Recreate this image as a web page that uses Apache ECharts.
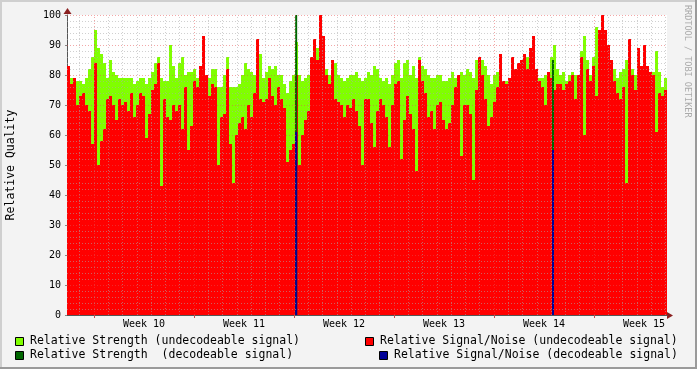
<!DOCTYPE html>
<html>
<head>
<meta charset="utf-8">
<script src="https://cdn.jsdelivr.net/npm/echarts@6/dist/echarts.min.js"></script>
<style>html,body{margin:0;padding:0;background:#f3f3f3;}#c{width:697px;height:369px;}</style>
</head>
<body>
<div id="c"></div>
<script>
// ---- data ----
const weekLabels = ['Week 10', 'Week 11', 'Week 12', 'Week 13', 'Week 14', 'Week 15'];
const spanHours = 1008;            // 6 weeks shown
const firstWeekStartHour = 45.4;   // hour (from left edge) where Week 10 begins
// Relative Strength (undecodeable signal), one value per 5.04 h
const strength = [
  80,79,78,78,78,77,79,82,86,95,89,87,84,79,85,81,80,79,79,79,79,79,77,78,79,79,77,79,81,84,86,79,78,
  78,90,83,79,84,86,80,81,81,82,79,78,78,80,79,82,82,76,76,80,86,76,76,76,77,80,84,82,81,80,84,87,79,
  81,83,82,83,80,80,77,74,78,80,91,80,78,79,80,86,89,89,88,83,82,80,78,84,80,79,78,79,80,80,81,79,78,79,
  81,80,83,82,79,78,79,77,80,84,85,79,84,85,80,83,79,86,83,82,80,79,79,80,80,78,78,79,81,79,78,81,80,
  82,81,79,85,86,85,83,80,77,80,81,80,78,78,79,80,80,80,79,86,86,80,80,80,79,79,80,80,86,90,82,80,81,
  78,80,81,80,80,88,93,85,80,86,96,93,90,90,88,85,82,79,81,82,85,86,82,80,81,80,81,80,81,81,88,81,76,79
];
// Relative Signal/Noise (undecodeable signal)
const signalNoise = [
  83,77,79,70,73,74,70,68,57,84,50,58,62,72,73,70,65,72,70,71,68,74,66,70,74,73,59,67,75,77,84,43,72,
  66,65,70,68,70,62,76,55,63,78,76,83,93,80,73,77,76,50,66,67,82,57,44,60,64,66,62,70,66,74,92,72,71,
  72,79,73,70,76,72,69,51,55,57,80,50,60,65,68,86,92,85,100,93,80,77,85,72,71,70,66,70,69,72,68,63,50,72,
  72,64,56,68,72,70,66,56,70,77,78,52,65,73,67,62,48,85,78,74,66,68,62,70,71,65,62,64,70,76,80,53,70,
  70,67,45,75,86,80,72,63,66,71,76,87,78,77,79,86,82,84,85,87,82,89,93,82,78,76,70,81,79,75,77,77,75,
  77,78,80,72,80,86,60,82,78,83,73,95,100,95,90,85,78,74,72,76,44,92,80,75,89,83,90,83,81,80,61,74,73,75
];
// decodeable signal samples (hour, value)
const decodeHours = [385, 816.5];
const decodeStrength = [100, 85];
const decodeSignalNoise = [61, 55];

const legendItems = [
  {name: 'Relative Strength (undecodeable signal)', color: '#80ff00'},
  {name: 'Relative Signal/Noise (undecodeable signal)', color: '#ff0000'},
  {name: 'Relative Strength  (decodeable signal)', color: '#006600'},
  {name: 'Relative Signal/Noise (decodeable signal)', color: '#000096'}
];

// ---- build ----
const step = spanHours / strength.length;
function toSteps(arr) {
  const d = arr.map((v, i) => [i * step, v]);
  d.push([arr.length * step, arr[arr.length - 1]]);
  return d;
}
const FONT = 'DejaVu Sans Mono';
const dayLines = [];
for (let d = -2; d < 45; d++) {
  const h = firstWeekStartHour + 24 * d;
  if (h > 0 && h < spanHours) dayLines.push({h, major: d % 7 === 0});
}
const weekMids = weekLabels.map((_, k) => firstWeekStartHour + 168 * k + 84);
const weekBounds = dayLines.filter(x => x.major).map(x => x.h);

const minorStyle = {color: 'rgba(170,170,170,0.55)', width: 1, type: [1, 2]};
const majorStyle = {color: 'rgba(230,80,80,0.5)', width: 1, type: [1, 2]};
const gridLines = [];
for (let v = 2; v < 100; v += 2) {
  gridLines.push({yAxis: v, lineStyle: v % 10 === 0 ? majorStyle : minorStyle});
}
gridLines.push({yAxis: 100, lineStyle: majorStyle});
dayLines.forEach(x => gridLines.push({xAxis: x.h, lineStyle: x.major ? majorStyle : minorStyle}));

const chart = echarts.init(document.getElementById('c'), null, {renderer: 'canvas'});
const legendGraphics = [];
const legendPos = [
  {x: 15, y: 337}, {x: 365, y: 337}, {x: 15, y: 351}, {x: 379, y: 351}
];
legendItems.forEach((it, i) => {
  const p = legendPos[i];
  legendGraphics.push({type: 'rect', left: p.x, top: p.y, shape: {width: 8, height: 8},
    style: {fill: it.color, stroke: '#000', lineWidth: 1}});
  legendGraphics.push({type: 'text', left: p.x + 15, top: p.y - 2,
    style: {text: it.name, font: '11.5px "' + FONT + '"', fill: '#000'}});
});

chart.setOption({
  animation: false,
  backgroundColor: '#f3f3f3',
  grid: {left: 67, top: 15, width: 600, height: 300, show: true, backgroundColor: '#ffffff', borderWidth: 0,
         containLabel: false, outerBoundsMode: 'none'},
  xAxis: {
    type: 'value', min: 0, max: spanHours,
    axisLine: {show: true, onZero: false, lineStyle: {color: '#555', width: 1}},
    axisTick: {show: true, customValues: weekBounds, length: 3, lineStyle: {color: '#c05050'}},
    axisLabel: {
      customValues: weekMids, margin: 4, fontFamily: FONT, fontSize: 10, color: '#000',
      formatter: v => weekLabels[Math.round((v - firstWeekStartHour - 84) / 168)]
    },
    splitLine: {show: false}
  },
  yAxis: {
    type: 'value', min: 0, max: 100, interval: 10,
    name: 'Relative Quality', nameLocation: 'middle', nameGap: 50, nameRotate: 90,
    nameTextStyle: {fontFamily: FONT, fontSize: 11.5, color: '#000'},
    axisLine: {show: true, lineStyle: {color: '#555', width: 1}},
    axisTick: {show: true, length: 2, lineStyle: {color: '#888'}},
    axisLabel: {margin: 6, fontFamily: FONT, fontSize: 10, color: '#000'},
    splitLine: {show: false}
  },
  series: [
    {name: legendItems[0].name, type: 'line', step: 'end', symbol: 'none', data: toSteps(strength),
     lineStyle: {width: 0}, areaStyle: {color: legendItems[0].color, opacity: 1}, z: 1},
    {name: legendItems[1].name, type: 'line', step: 'end', symbol: 'none', data: toSteps(signalNoise),
     lineStyle: {width: 0}, areaStyle: {color: legendItems[1].color, opacity: 1}, z: 2},
    {name: legendItems[2].name, type: 'bar', barWidth: 2, barGap: '-100%', z: 3,
     itemStyle: {color: legendItems[2].color},
     data: decodeHours.map((h, i) => [h, decodeStrength[i]])},
    {name: legendItems[3].name, type: 'bar', barWidth: 2, barGap: '-100%', z: 4,
     itemStyle: {color: legendItems[3].color},
     data: decodeHours.map((h, i) => [h, decodeSignalNoise[i]])},
    {name: 'grid', type: 'line', data: [], z: 6, silent: true,
     markLine: {silent: true, symbol: ['none', 'none'], animation: false, label: {show: false},
       emphasis: {disabled: true}, data: gridLines}}
  ],
  graphic: [
    {type: 'rect', left: 0, top: 0, shape: {width: 697, height: 2}, style: {fill: '#cfcfcf'}},
    {type: 'rect', left: 0, top: 0, shape: {width: 2, height: 369}, style: {fill: '#cfcfcf'}},
    {type: 'rect', left: 0, top: 367, shape: {width: 697, height: 2}, style: {fill: '#9a9a9a'}},
    {type: 'rect', left: 695, top: 0, shape: {width: 2, height: 369}, style: {fill: '#9a9a9a'}},
    {type: 'line', shape: {x1: 667, y1: 315.5, x2: 670, y2: 315.5}, style: {stroke: '#555', lineWidth: 1}},
    {type: 'polygon', shape: {points: [[667, 312], [673, 315.5], [667, 319]]}, style: {fill: '#8b2020'}},
    {type: 'polygon', shape: {points: [[63.5, 14], [67.5, 8], [71.5, 14]]}, style: {fill: '#8b2020'}},
    {type: 'text', x: 692, y: 5, rotation: -Math.PI / 2,
     style: {text: 'RRDTOOL / TOBI OETIKER', font: '8.5px "' + FONT + '"', fill: '#aaaaaa'}}
  ].concat(legendGraphics)
});
</script>
</body>
</html>
